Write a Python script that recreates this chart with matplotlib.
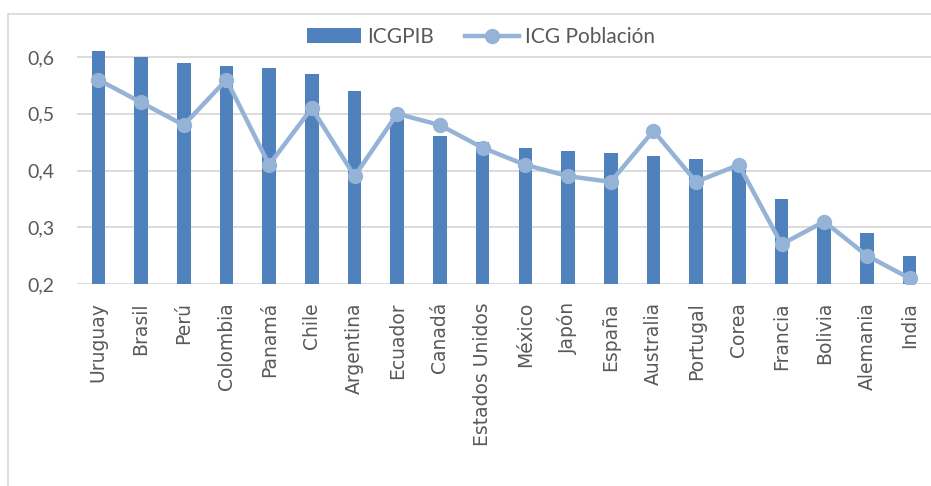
import matplotlib
matplotlib.use("Agg")
import matplotlib.pyplot as plt
from matplotlib.lines import Line2D
import numpy as np

PAISES = ["Uruguay", "Brasil", "Perú", "Colombia", "Panamá", "Chile", "Argentina",
          "Ecuador", "Canadá", "Estados Unidos", "México", "Japón", "España",
          "Australia", "Portugal", "Corea", "Francia", "Bolivia", "Alemania", "India"]
ICG_PIB = [0.61, 0.60, 0.59, 0.585, 0.58, 0.57, 0.54, 0.49, 0.46, 0.45, 0.44,
           0.435, 0.43, 0.425, 0.42, 0.41, 0.35, 0.30, 0.29, 0.25]
ICG_POB = [0.56, 0.52, 0.48, 0.56, 0.41, 0.51, 0.39, 0.50, 0.48, 0.44, 0.41,
           0.39, 0.38, 0.47, 0.38, 0.41, 0.27, 0.31, 0.25, 0.21]
Y_TICKS = [0.2, 0.3, 0.4, 0.5, 0.6]
Y_LABELS = ["0,2", "0,3", "0,4", "0,5", "0,6"]

BAR_C = "#4F81BD"
LINE_C = "#95B3D7"
GRID_C = "#D9D9D9"
TEXT_C = "#595959"

W, H = 931, 486
fig = plt.figure(figsize=(W / 100, H / 100), dpi=100)

# chart frame (Excel-style border, cropped on right/bottom)
fig.add_artist(Line2D([8 / W, 1], [1 - 14 / H, 1 - 14 / H], color=GRID_C, lw=1.2))
fig.add_artist(Line2D([8 / W, 8 / W], [0, 1 - 14 / H], color=GRID_C, lw=1.2))

# axes: y=0.2 at 284px, 0.1 per 56.75px
y_top = 0.65
top_px = 284 - (y_top - 0.2) / 0.1 * 56.75
ax = fig.add_axes([77 / W, (H - 284) / H, (W - 77) / W, (284 - top_px) / H])

x = np.arange(len(PAISES))
bars = ax.bar(x, ICG_PIB, width=0.32, color=BAR_C, zorder=2, label="ICGPIB")
line, = ax.plot(x, ICG_POB, color=LINE_C, lw=3.2, marker="o", markersize=10,
                zorder=3, label="ICG Población")

ax.set_xlim(-0.5, len(PAISES) - 0.5)
ax.set_ylim(0.2, y_top)
ax.set_yticks(Y_TICKS)
ax.set_yticklabels(Y_LABELS, family="Lato", fontsize=14, color=TEXT_C)
ax.set_xticks(x)
ax.set_xticklabels(PAISES, rotation=90, family="DejaVu Sans", fontsize=13.5,
                   color=TEXT_C, va="top", ha="center")
ax.tick_params(axis="both", length=0)
ax.tick_params(axis="x", pad=13)
ax.tick_params(axis="y", pad=16)
ax.yaxis.grid(True, color=GRID_C, lw=1.3, zorder=0)
ax.set_axisbelow(True)
for s in ax.spines.values():
    s.set_visible(False)

fig.legend(handles=[bars, line], labels=["ICGPIB", "ICG Población"],
           loc="center", bbox_to_anchor=(481 / W, 1 - 37 / H), ncol=2,
           frameon=False, prop={"family": "Lato", "size": 15},
           labelcolor=TEXT_C, handlelength=2.6, handletextpad=0.3,
           columnspacing=1.5)

fig.savefig("out.png", dpi=100)
